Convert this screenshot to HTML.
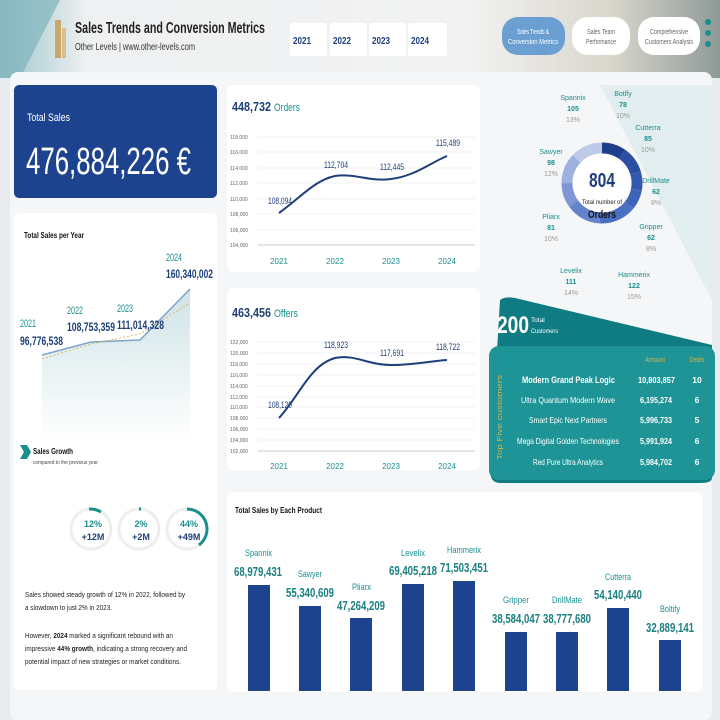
<!DOCTYPE html>
<html><head><meta charset="utf-8"><style>
body{margin:0;width:720px;height:720px;overflow:hidden;background:#e9ecee;font-family:"Liberation Sans",sans-serif}
svg{display:block}
text{font-family:"Liberation Sans",sans-serif}
</style></head><body>
<svg width="720" height="720" viewBox="0 0 720 720" xmlns="http://www.w3.org/2000/svg">
<defs>
<linearGradient id="bgtop" x1="0" y1="0" x2="1" y2="0">
<stop offset="0" stop-color="#9cc6cc"/><stop offset="0.12" stop-color="#eef0f1"/><stop offset="0.65" stop-color="#f2f2f2"/><stop offset="0.85" stop-color="#d9d6cc"/><stop offset="1" stop-color="#8e9a98"/></linearGradient>
<linearGradient id="area" x1="0" y1="0" x2="0" y2="1"><stop offset="0" stop-color="#cfe3e6"/><stop offset="1" stop-color="#ffffff"/></linearGradient>
</defs>
<rect width="720" height="720" fill="#e9ecee"/>
<rect width="720" height="78" fill="url(#bgtop)"/>
<polygon points="0,0 60,0 20,78 0,78" fill="#7fb3bb" opacity="0.7"/>
<rect x="10" y="72" width="702" height="648" rx="8" fill="#f5f6f7"/>
<polygon points="600,85 712,85 712,300 660,200" fill="#d8e9ea" opacity="0.7"/>
<!-- header -->
<rect x="55" y="20" width="6" height="38" fill="#c9a86a"/>
<rect x="62" y="28" width="4" height="30" fill="#d8bf8c"/>
<text x="75" y="33" font-size="15.5" font-weight="bold" fill="#222" textLength="190" lengthAdjust="spacingAndGlyphs">Sales Trends and Conversion Metrics</text>
<text x="75" y="50" font-size="10.5" fill="#333" textLength="120" lengthAdjust="spacingAndGlyphs">Other Levels | www.other-levels.com</text>
<g font-size="10" font-weight="bold" fill="#1d3f7a">
<rect x="290" y="23" width="37" height="33" rx="3" fill="#fff"/><text x="293" y="44" textLength="18" lengthAdjust="spacingAndGlyphs">2021</text>
<rect x="330" y="23" width="37" height="33" rx="3" fill="#fff"/><text x="333" y="44" textLength="18" lengthAdjust="spacingAndGlyphs">2022</text>
<rect x="369" y="23" width="37" height="33" rx="3" fill="#fff"/><text x="372" y="44" textLength="18" lengthAdjust="spacingAndGlyphs">2023</text>
<rect x="408" y="23" width="39" height="33" rx="3" fill="#fff"/><text x="411" y="44" textLength="18" lengthAdjust="spacingAndGlyphs">2024</text>
</g>
<rect x="502" y="17" width="63" height="38" rx="16" fill="#6b9fd1"/>
<text x="533" y="34" font-size="7" fill="#fff" text-anchor="middle" textLength="32" lengthAdjust="spacingAndGlyphs">Sales Trends &amp;</text>
<text x="533" y="44" font-size="7" fill="#fff" text-anchor="middle" textLength="50" lengthAdjust="spacingAndGlyphs">Conversion Metrics</text>
<rect x="572" y="17" width="58" height="38" rx="16" fill="#fff"/>
<text x="601" y="34" font-size="7" fill="#666" text-anchor="middle" textLength="28" lengthAdjust="spacingAndGlyphs">Sales Team</text>
<text x="601" y="44" font-size="7" fill="#666" text-anchor="middle" textLength="30" lengthAdjust="spacingAndGlyphs">Performance</text>
<rect x="638" y="17" width="62" height="38" rx="16" fill="#fff"/>
<text x="669" y="34" font-size="7" fill="#666" text-anchor="middle" textLength="38" lengthAdjust="spacingAndGlyphs">Comprehensive</text>
<text x="669" y="44" font-size="7" fill="#666" text-anchor="middle" textLength="48" lengthAdjust="spacingAndGlyphs">Customers Analysis</text>
<circle cx="708" cy="22" r="3" fill="#1a8f8f"/><circle cx="708" cy="33" r="3" fill="#1a8f8f"/><circle cx="708" cy="44" r="3" fill="#1a8f8f"/>

<!-- Total sales -->
<rect x="14" y="85" width="203" height="113" rx="5" fill="#1d438e"/>
<text x="27" y="121" font-size="11" fill="#fff" textLength="43" lengthAdjust="spacingAndGlyphs">Total Sales</text>
<text x="26" y="174" font-size="38" fill="#fff" textLength="165" lengthAdjust="spacingAndGlyphs">476,884,226 €</text>

<!-- Total sales per year -->
<rect x="14" y="213" width="203" height="477" rx="5" fill="#fff"/>
<text x="24" y="238" font-size="8.5" font-weight="bold" fill="#111" textLength="60" lengthAdjust="spacingAndGlyphs">Total Sales per Year</text>
<polygon points="42,355 91,342 140,340 190,289 190,440 42,440" fill="url(#area)"/>
<polyline points="42,355 91,342 140,340 190,289" fill="none" stroke="#7ea3cc" stroke-width="1.5"/>
<polyline points="42,359 91,344 140,334 190,303" fill="none" stroke="#d8b040" stroke-width="0.8" stroke-dasharray="2,2"/>
<g font-size="11" fill="#1a8f8f">
<text x="20" y="327" textLength="16" lengthAdjust="spacingAndGlyphs">2021</text>
<text x="67" y="314" textLength="16" lengthAdjust="spacingAndGlyphs">2022</text>
<text x="117" y="312" textLength="16" lengthAdjust="spacingAndGlyphs">2023</text>
<text x="166" y="261" textLength="16" lengthAdjust="spacingAndGlyphs">2024</text></g>
<g font-size="12" font-weight="bold" fill="#1d3f7a">
<text x="20" y="345" textLength="43" lengthAdjust="spacingAndGlyphs">96,776,538</text>
<text x="67" y="331" textLength="48" lengthAdjust="spacingAndGlyphs">108,753,359</text>
<text x="117" y="329" textLength="47" lengthAdjust="spacingAndGlyphs">111,014,328</text>
<text x="166" y="278" textLength="47" lengthAdjust="spacingAndGlyphs">160,340,002</text></g>
<polygon points="20,445 27,445 31,452 27,459 20,459 24,452" fill="#1a8f8f"/>
<text x="33" y="454" font-size="8" font-weight="bold" fill="#111" textLength="40" lengthAdjust="spacingAndGlyphs">Sales Growth</text>
<text x="33" y="464" font-size="5.5" fill="#444" textLength="65" lengthAdjust="spacingAndGlyphs">compared to the previous year</text>
<g fill="none" stroke-width="3">
<circle cx="91" cy="529" r="20" stroke="#eeeeee"/><path d="M89,509 A20,20 0 0 1 101,512" stroke="#1a8f8f"/>
<circle cx="139" cy="529" r="20" stroke="#eeeeee"/><path d="M139,509 A20,20 0 0 1 141,509" stroke="#1a8f8f"/>
<circle cx="187" cy="529" r="20" stroke="#eeeeee"/><path d="M187,509 A20,20 0 0 1 199,545" stroke="#1a8f8f"/>
</g>
<g font-size="9" font-weight="bold" text-anchor="middle">
<text x="93" y="527" fill="#1a8f8f">12%</text><text x="93" y="540" fill="#1d3f7a">+12M</text>
<text x="141" y="527" fill="#1a8f8f">2%</text><text x="141" y="540" fill="#1d3f7a">+2M</text>
<text x="189" y="527" fill="#1a8f8f">44%</text><text x="189" y="540" fill="#1d3f7a">+49M</text>
</g>
<g font-size="7.5" fill="#222">
<text x="25" y="597" textLength="160" lengthAdjust="spacingAndGlyphs">Sales showed steady growth of 12% in 2022, followed by</text>
<text x="25" y="610" textLength="87" lengthAdjust="spacingAndGlyphs">a slowdown to just 2% in 2023.</text>
<text x="25" y="638" textLength="148" lengthAdjust="spacingAndGlyphs">However, <tspan font-weight="bold">2024</tspan> marked a significant rebound with an</text>
<text x="25" y="651" textLength="162" lengthAdjust="spacingAndGlyphs">impressive <tspan font-weight="bold">44% growth</tspan>, indicating a strong recovery and</text>
<text x="25" y="664" textLength="156" lengthAdjust="spacingAndGlyphs">potential impact of new strategies or market conditions.</text>
</g>

<!-- Orders -->
<rect x="227" y="85" width="253" height="187" rx="5" fill="#fff"/>
<text x="232" y="111" font-size="13" font-weight="bold" fill="#1d3f7a" textLength="39" lengthAdjust="spacingAndGlyphs">448,732</text>
<text x="274" y="111" font-size="11" fill="#1a8f8f" textLength="26" lengthAdjust="spacingAndGlyphs">Orders</text>
<g stroke="#e4e4e4" stroke-width="0.6">
<line x1="258" y1="137" x2="475" y2="137"/><line x1="258" y1="152" x2="475" y2="152"/><line x1="258" y1="168" x2="475" y2="168"/><line x1="258" y1="183" x2="475" y2="183"/><line x1="258" y1="199" x2="475" y2="199"/><line x1="258" y1="214" x2="475" y2="214"/><line x1="258" y1="230" x2="475" y2="230"/><line x1="258" y1="245" x2="475" y2="245" stroke="#ccc" stroke-width="1"/>
</g>
<g font-size="5" fill="#666">
<text x="230" y="139">118,000</text><text x="230" y="154">116,000</text><text x="230" y="170">114,000</text><text x="230" y="185">112,000</text><text x="230" y="201">110,000</text><text x="230" y="216">108,000</text><text x="230" y="232">106,000</text><text x="230" y="247">104,000</text>
</g>
<path d="M279,213 C300,198 315,180 335,176 C355,173 370,182 391,179 C415,176 430,163 447,156" fill="none" stroke="#1d3f7a" stroke-width="2"/>
<g font-size="9" fill="#1d3f7a">
<text x="268" y="204" textLength="24" lengthAdjust="spacingAndGlyphs">108,094</text>
<text x="324" y="168" textLength="24" lengthAdjust="spacingAndGlyphs">112,704</text>
<text x="380" y="170" textLength="24" lengthAdjust="spacingAndGlyphs">112,445</text>
<text x="436" y="146" textLength="24" lengthAdjust="spacingAndGlyphs">115,489</text></g>
<g font-size="8" fill="#1a8f8f" text-anchor="middle"><text x="279" y="264">2021</text><text x="335" y="264">2022</text><text x="391" y="264">2023</text><text x="447" y="264">2024</text></g>

<!-- Offers -->
<rect x="227" y="288" width="253" height="182" rx="5" fill="#fff"/>
<text x="232" y="317" font-size="13" font-weight="bold" fill="#1d3f7a" textLength="39" lengthAdjust="spacingAndGlyphs">463,456</text>
<text x="274" y="317" font-size="11" fill="#1a8f8f" textLength="24" lengthAdjust="spacingAndGlyphs">Offers</text>
<g stroke="#e4e4e4" stroke-width="0.6">
<line x1="258" y1="342" x2="475" y2="342"/><line x1="258" y1="353" x2="475" y2="353"/><line x1="258" y1="364" x2="475" y2="364"/><line x1="258" y1="375" x2="475" y2="375"/><line x1="258" y1="386" x2="475" y2="386"/><line x1="258" y1="397" x2="475" y2="397"/><line x1="258" y1="407" x2="475" y2="407"/><line x1="258" y1="418" x2="475" y2="418"/><line x1="258" y1="429" x2="475" y2="429"/><line x1="258" y1="440" x2="475" y2="440"/><line x1="258" y1="451" x2="475" y2="451" stroke="#ccc" stroke-width="1"/>
</g>
<g font-size="5" fill="#666">
<text x="230" y="344">122,000</text><text x="230" y="355">120,000</text><text x="230" y="366">118,000</text><text x="230" y="377">116,000</text><text x="230" y="388">114,000</text><text x="230" y="399">112,000</text><text x="230" y="409">110,000</text><text x="230" y="420">108,000</text><text x="230" y="431">106,000</text><text x="230" y="442">104,000</text><text x="230" y="453">102,000</text>
</g>
<path d="M279,418 C300,395 310,365 335,358 C355,354 368,365 391,365 C415,365 430,361 447,360" fill="none" stroke="#1d3f7a" stroke-width="2"/>
<g font-size="9" fill="#1d3f7a">
<text x="268" y="408" textLength="24" lengthAdjust="spacingAndGlyphs">108,120</text>
<text x="324" y="348" textLength="24" lengthAdjust="spacingAndGlyphs">118,923</text>
<text x="380" y="356" textLength="24" lengthAdjust="spacingAndGlyphs">117,691</text>
<text x="436" y="350" textLength="24" lengthAdjust="spacingAndGlyphs">118,722</text></g>
<g font-size="8" fill="#1a8f8f" text-anchor="middle"><text x="279" y="469">2021</text><text x="335" y="469">2022</text><text x="391" y="469">2023</text><text x="447" y="469">2024</text></g>

<!-- Donut -->
<g fill="none" stroke-width="11" transform="rotate(-90 602 183)">
<circle cx="602" cy="183" r="35" stroke="#1f3e8c" stroke-dasharray="21.3 220" stroke-dashoffset="0"/>
<circle cx="602" cy="183" r="35" stroke="#2a4fa0" stroke-dasharray="23.3 220" stroke-dashoffset="-21.3"/>
<circle cx="602" cy="183" r="35" stroke="#3358b0" stroke-dasharray="17 220" stroke-dashoffset="-44.6"/>
<circle cx="602" cy="183" r="35" stroke="#3d63bb" stroke-dasharray="17 220" stroke-dashoffset="-61.6"/>
<circle cx="602" cy="183" r="35" stroke="#4a70c4" stroke-dasharray="33.4 220" stroke-dashoffset="-78.6"/>
<circle cx="602" cy="183" r="35" stroke="#6483cc" stroke-dasharray="30.4 220" stroke-dashoffset="-112"/>
<circle cx="602" cy="183" r="35" stroke="#7e97d4" stroke-dasharray="22.2 220" stroke-dashoffset="-142.4"/>
<circle cx="602" cy="183" r="35" stroke="#9eb0de" stroke-dasharray="26.8 220" stroke-dashoffset="-164.6"/>
<circle cx="602" cy="183" r="35" stroke="#bfcae8" stroke-dasharray="28.7 220" stroke-dashoffset="-191.4"/>
</g>
<circle cx="602" cy="183" r="29.5" fill="#fff"/>
<text x="602" y="187" font-size="20" font-weight="bold" fill="#1d3f7a" text-anchor="middle" textLength="26" lengthAdjust="spacingAndGlyphs">804</text>
<text x="602" y="204" font-size="6" fill="#222" text-anchor="middle" textLength="40" lengthAdjust="spacingAndGlyphs">Total number of</text>
<text x="602" y="218" font-size="11" font-weight="bold" fill="#111" text-anchor="middle" textLength="28" lengthAdjust="spacingAndGlyphs">Orders</text>
<g font-size="7" text-anchor="middle">
<g transform="translate(573,100)"><text fill="#1a8f8f">Spannix</text><text y="11" font-weight="bold" fill="#1a8f8f">105</text><text y="22" fill="#999">13%</text></g>
<g transform="translate(623,96)"><text fill="#1a8f8f">Botlfy</text><text y="11" font-weight="bold" fill="#1a8f8f">78</text><text y="22" fill="#999">10%</text></g>
<g transform="translate(648,130)"><text fill="#1a8f8f">Cutterra</text><text y="11" font-weight="bold" fill="#1a8f8f">85</text><text y="22" fill="#999">10%</text></g>
<g transform="translate(656,183)"><text fill="#1a8f8f">DrillMate</text><text y="11" font-weight="bold" fill="#1a8f8f">62</text><text y="22" fill="#999">8%</text></g>
<g transform="translate(651,229)"><text fill="#1a8f8f">Gripper</text><text y="11" font-weight="bold" fill="#1a8f8f">62</text><text y="22" fill="#999">8%</text></g>
<g transform="translate(634,277)"><text fill="#1a8f8f">Hammerix</text><text y="11" font-weight="bold" fill="#1a8f8f">122</text><text y="22" fill="#999">15%</text></g>
<g transform="translate(571,273)"><text fill="#1a8f8f">Levelix</text><text y="11" font-weight="bold" fill="#1a8f8f">111</text><text y="22" fill="#999">14%</text></g>
<g transform="translate(551,219)"><text fill="#1a8f8f">Pliarx</text><text y="11" font-weight="bold" fill="#1a8f8f">81</text><text y="22" fill="#999">10%</text></g>
<g transform="translate(551,154)"><text fill="#1a8f8f">Sawyer</text><text y="11" font-weight="bold" fill="#1a8f8f">98</text><text y="22" fill="#999">12%</text></g>
</g>

<!-- Customers -->
<path d="M500,300 Q505,296 515,298 L712,345 L712,478 Q712,483 700,483 L500,483 Q490,483 490,470 Z" fill="#0f7b82"/>
<text x="497" y="333" font-size="24" font-weight="bold" fill="#fff" textLength="32" lengthAdjust="spacingAndGlyphs">200</text>
<text x="531" y="322" font-size="6.5" fill="#fff">Total</text>
<text x="531" y="333" font-size="6.5" fill="#fff" textLength="27" lengthAdjust="spacingAndGlyphs">Customers</text>
<rect x="489" y="346" width="226" height="134" rx="10" fill="#1e9496"/>
<text x="502" y="460" font-size="7" fill="#d8b040" transform="rotate(-90 502 460)" textLength="85" lengthAdjust="spacingAndGlyphs">Top Five customers</text>
<text x="655" y="362" font-size="7" fill="#d8b040" text-anchor="middle" textLength="20" lengthAdjust="spacingAndGlyphs">Amount</text>
<text x="697" y="362" font-size="7" fill="#d8b040" text-anchor="middle" textLength="15" lengthAdjust="spacingAndGlyphs">Deals</text>
<g font-size="8.5" fill="#fff">
<text x="522" y="383" font-weight="bold" font-size="9" textLength="93" lengthAdjust="spacingAndGlyphs">Modern Grand Peak Logic</text>
<text x="521" y="403" textLength="94" lengthAdjust="spacingAndGlyphs">Ultra Quantum Modern Wave</text>
<text x="529" y="423" textLength="78" lengthAdjust="spacingAndGlyphs">Smart Epic Next Partners</text>
<text x="517" y="444" textLength="102" lengthAdjust="spacingAndGlyphs">Mega Digital Golden Technologies</text>
<text x="533" y="465" textLength="70" lengthAdjust="spacingAndGlyphs">Red Pure Ultra Analytics</text>
<g font-weight="bold">
<text x="638" y="383" textLength="37" lengthAdjust="spacingAndGlyphs">10,803,857</text>
<text x="640" y="403" textLength="32" lengthAdjust="spacingAndGlyphs">6,195,274</text>
<text x="640" y="423" textLength="32" lengthAdjust="spacingAndGlyphs">5,996,733</text>
<text x="640" y="444" textLength="32" lengthAdjust="spacingAndGlyphs">5,991,924</text>
<text x="640" y="465" textLength="32" lengthAdjust="spacingAndGlyphs">5,984,702</text>
</g>
<g text-anchor="middle" font-weight="bold">
<text x="697" y="383">10</text><text x="697" y="403">6</text><text x="697" y="423">5</text><text x="697" y="444">6</text><text x="697" y="465">6</text>
</g>
</g>

<!-- Product bars -->
<rect x="227" y="492" width="475" height="200" rx="5" fill="#fff"/>
<text x="235" y="513" font-size="8" font-weight="bold" fill="#111" textLength="87" lengthAdjust="spacingAndGlyphs">Total Sales by Each Product</text>
<g fill="#1d438e">
<rect x="248" y="585" width="22" height="106"/><rect x="299" y="606" width="22" height="85"/><rect x="350" y="618" width="22" height="73"/>
<rect x="402" y="584" width="22" height="107"/><rect x="453" y="581" width="22" height="110"/><rect x="505" y="632" width="22" height="59"/>
<rect x="556" y="632" width="22" height="59"/><rect x="607" y="608" width="22" height="83"/><rect x="659" y="640" width="22" height="51"/>
</g>
<g font-size="9.5" fill="#1a8f8f">
<text x="245" y="556" textLength="27" lengthAdjust="spacingAndGlyphs">Spannix</text>
<text x="298" y="577" textLength="24" lengthAdjust="spacingAndGlyphs">Sawyer</text>
<text x="352" y="590" textLength="19" lengthAdjust="spacingAndGlyphs">Pliarx</text>
<text x="401" y="556" textLength="24" lengthAdjust="spacingAndGlyphs">Levelix</text>
<text x="447" y="553" textLength="34" lengthAdjust="spacingAndGlyphs">Hammerix</text>
<text x="503" y="603" textLength="26" lengthAdjust="spacingAndGlyphs">Gripper</text>
<text x="552" y="603" textLength="30" lengthAdjust="spacingAndGlyphs">DrillMate</text>
<text x="605" y="580" textLength="26" lengthAdjust="spacingAndGlyphs">Cutterra</text>
<text x="660" y="612" textLength="20" lengthAdjust="spacingAndGlyphs">Boltify</text>
</g>
<g font-size="12.5" font-weight="bold" fill="#1a8080">
<text x="234" y="576" textLength="48" lengthAdjust="spacingAndGlyphs">68,979,431</text>
<text x="286" y="597" textLength="48" lengthAdjust="spacingAndGlyphs">55,340,609</text>
<text x="337" y="610" textLength="48" lengthAdjust="spacingAndGlyphs">47,264,209</text>
<text x="389" y="575" textLength="48" lengthAdjust="spacingAndGlyphs">69,405,218</text>
<text x="440" y="572" textLength="48" lengthAdjust="spacingAndGlyphs">71,503,451</text>
<text x="492" y="623" textLength="48" lengthAdjust="spacingAndGlyphs">38,584,047</text>
<text x="543" y="623" textLength="48" lengthAdjust="spacingAndGlyphs">38,777,680</text>
<text x="594" y="599" textLength="48" lengthAdjust="spacingAndGlyphs">54,140,440</text>
<text x="646" y="632" textLength="48" lengthAdjust="spacingAndGlyphs">32,889,141</text>
</g>
</svg>
</body></html>
